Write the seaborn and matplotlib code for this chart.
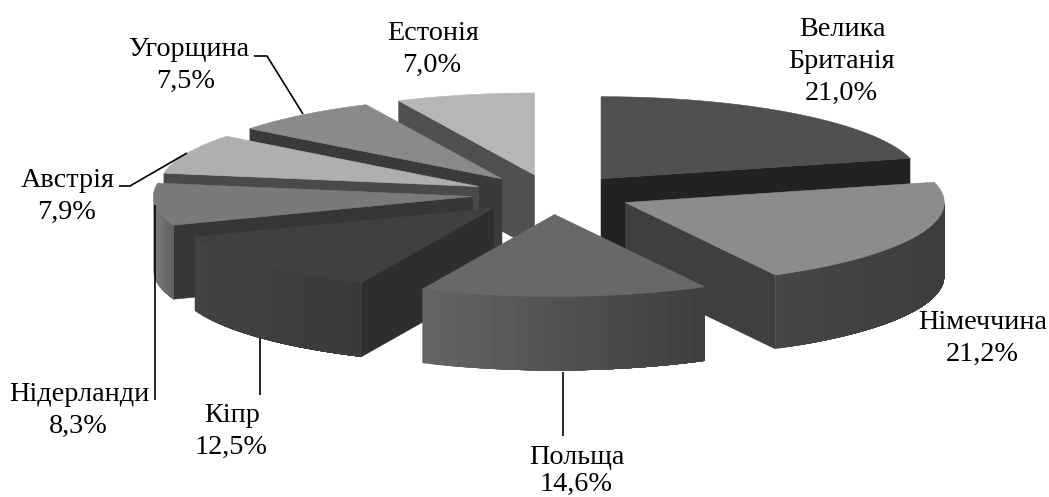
import numpy as np
import matplotlib
matplotlib.use("Agg")
import matplotlib.pyplot as plt
import seaborn as sns

sns.set_theme(style="white")
plt.rcParams["font.family"] = ["Liberation Serif", "DejaVu Serif"]

# Shares by country, clockwise from twelve o'clock
countries = ["Велика\nБританія", "Німеччина", "Польща", "Кіпр",
             "Нідерланди", "Австрія", "Угорщина", "Естонія"]
shares = [21.0, 21.2, 14.6, 12.5, 8.3, 7.9, 7.5, 7.0]

# Grey shades for each wedge
top_colors = ["#505050", "#8c8c8c", "#686868", "#404040",
              "#7a7a7a", "#afafaf", "#8a8a8a", "#b6b6b6"]
cut_colors = ["#222222", "#3f3f3f", "#3f3f3f", "#2e2e2e",
              "#363636", "#4a4a4a", "#3a3a3a", "#505050"]
rim_left = ["#3c3c3c", "#464646", "#646464", "#424242",
            "#7c7c7c", "#666666", "#555555", "#555555"]
rim_right = ["#3c3c3c", "#3d3d3d", "#3f3f3f", "#3a3a3a",
             "#626262", "#555555", "#444444", "#444444"]

# Back-to-front drawing sequence of the wedges
draw_order = [0, 1, 7, 6, 5, 4, 3, 2]

# Text baselines: centre x, baseline of the last name line, baseline of the value
name_anchor = [(842, 68), (983, 329), (577, 464), (232, 422),
               (79, 401), (68, 187), (189, 56), (433, 40)]
value_anchor = [(841, 100), (982, 361), (576, 491), (231, 454),
                (78, 433), (67, 219), (186, 88), (432, 72)]
line_step = 32
leaders = [None, None,
           [(563, 372), (563, 436)],
           [(260, 338), (260, 395)],
           [(155, 205), (155, 400)],
           [(119, 186), (130, 186), (187, 153)],
           [(254, 56), (267, 56), (303, 114)],
           None]

# Projection of the tilted pie onto the page
CX, CY = 552, 194.5
RX, RY = 319, 82
SHIFT_X, SHIFT_Y = 80, 20
DEPTH = 74

edges = np.concatenate([[0], np.cumsum(shares)]) / np.sum(shares) * 2 * np.pi

fig = plt.figure(figsize=(10.49, 4.97), dpi=100)
ax = fig.add_axes([0, 0, 1, 1])
ax.set_xlim(0, 1049)
ax.set_ylim(497, 0)
ax.axis("off")


def fill(xs, ys, color, lw=0.4):
    ax.fill(xs, ys, facecolor=color, edgecolor=color, linewidth=lw)


for i in draw_order:
    start, stop = edges[i], edges[i + 1]
    mid = (start + stop) / 2
    ax0 = CX + SHIFT_X * np.sin(mid)
    ay0 = CY - SHIFT_Y * np.cos(mid)

    def rim(t):
        return ax0 + RX * np.sin(t), ay0 - RY * np.cos(t)

    # Radial cut faces that turn toward the viewer
    for angle, visible in ((start, np.sin(start) < 0), (stop, np.sin(stop) > 0)):
        if visible:
            px, py = rim(angle)
            fill([ax0, px, px, ax0], [ay0, py, py + DEPTH, ay0 + DEPTH], cut_colors[i])

    # Outer curved wall, shaded in overlapping bands from left to right
    lo, hi = max(start, np.pi / 2), min(stop, 3 * np.pi / 2)
    if hi > lo:
        ts = np.linspace(lo, hi, 121)
        xs, ys = rim(ts)
        order = np.argsort(xs)
        xs, ys = xs[order], ys[order]
        bands = 24
        shades = sns.blend_palette([rim_left[i], rim_right[i]], bands)
        for b in range(bands):
            left = xs[0] + (xs[-1] - xs[0]) * b / bands
            keep = xs >= left
            bx = np.r_[left, xs[keep]]
            by = np.r_[np.interp(left, xs, ys), ys[keep]]
            fill(np.r_[bx, bx[::-1]], np.r_[by, by[::-1] + DEPTH], shades[b], lw=0)

    # Top face
    ts = np.linspace(start, stop, 120)
    xs, ys = rim(ts)
    fill(np.r_[ax0, xs], np.r_[ay0, ys], top_colors[i])

# Labels and leader lines
FONT_SIZE = 20.3
for i, name in enumerate(countries):
    nx, ny = name_anchor[i]
    lines = name.split("\n")
    for k, line in enumerate(lines):
        ax.text(nx, ny - line_step * (len(lines) - 1 - k), line, ha="center",
                va="baseline", fontsize=FONT_SIZE, color="black")
    vx, vy = value_anchor[i]
    ax.text(vx, vy, f"{shares[i]:.1f}%".replace(".", ","), ha="center",
            va="baseline", fontsize=FONT_SIZE, color="black")
    if leaders[i]:
        lx, ly = zip(*leaders[i])
        ax.plot(lx, ly, color="black", lw=1.2, solid_capstyle="butt")

fig.savefig("out.png", dpi=100, facecolor="white")
